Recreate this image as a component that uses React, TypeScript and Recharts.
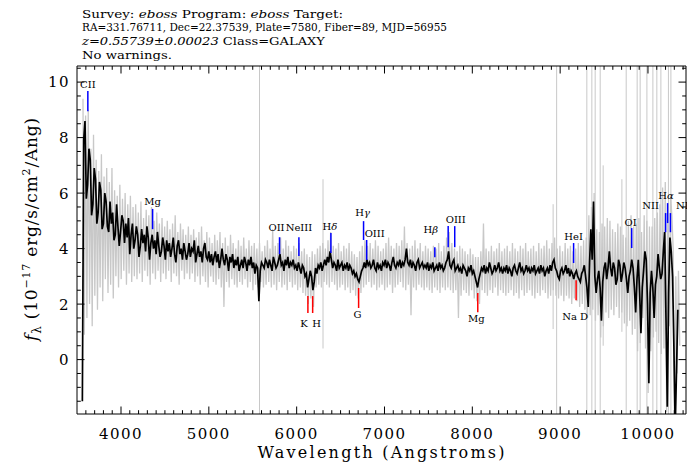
import React from "react";
import { LineChart, Line, XAxis, YAxis, ReferenceLine } from "recharts";

// spectrum: smoothed flux (black) and raw flux (gray), 10^-17 erg/s/cm^2/Ang
const smoothStart = 3560;
const smoothStep = 15;
const smoothFlux = [
  -1.5, 7.9, 8.6, 5.8, 6.3, 7.6, 7.2, 5.2, 5.6, 6.9, 6.5, 4.9, 5.3, 6.4, 6.1, 4.7, 4.9, 6.0, 5.7, 4.8,
  4.6, 5.7, 4.9, 5.3, 4.3, 4.5, 5.6, 4.8, 4.1, 4.6, 5.2, 5.0, 4.2, 4.9, 4.4, 5.1, 3.8, 4.5, 4.9, 4.0,
  4.3, 4.8, 4.5, 3.7, 4.1, 4.7, 4.2, 4.5, 3.9, 4.8, 4.4, 3.6, 4.2, 4.5, 4.0, 4.3, 3.8, 4.6, 4.1, 3.7,
  3.9, 4.4, 4.1, 3.6, 4.3, 3.9, 4.2, 3.7, 4.0, 4.4, 3.8, 3.5, 4.1, 4.3, 3.8, 4.0, 3.6, 4.2, 3.9, 3.6,
  3.8, 4.2, 3.7, 4.0, 3.9, 4.3, 3.5, 3.8, 4.1, 3.7, 3.9, 3.5, 4.0, 4.2, 3.7, 3.6, 3.9, 3.5, 3.8, 3.4,
  3.7, 3.9, 3.5, 3.8, 3.3, 3.6, 4.0, 3.6, 3.4, 3.8, 3.6, 3.2, 3.7, 3.5, 3.8, 3.3, 3.6, 3.4, 3.7, 3.2,
  3.4, 3.6, 3.3, 3.7, 3.5, 3.2, 3.6, 3.4, 3.7, 3.3, 3.5, 3.1, 3.4, 3.3, 2.1, 3.2, 3.5, 3.4, 3.3, 3.6,
  3.5, 3.3, 3.6, 3.4, 3.2, 3.7, 3.5, 3.3, 3.4, 3.6, 3.8, 3.4, 3.5, 3.2, 3.6, 3.4, 3.7, 3.3, 3.5, 3.4,
  3.6, 3.3, 3.4, 3.2, 3.5, 3.3, 3.1, 3.4, 3.3, 3.0, 3.1, 2.6, 2.9, 3.2, 3.0, 2.5, 2.8, 3.3, 3.1, 3.4,
  3.3, 3.5, 3.2, 3.4, 3.6, 3.4, 3.7, 3.5, 3.9, 3.6, 3.3, 3.5, 3.4, 3.2, 3.6, 3.3, 3.4, 3.5, 3.2, 3.4,
  3.3, 3.5, 3.2, 3.4, 3.3, 3.1, 3.2, 3.0, 3.1, 2.9, 2.8, 3.0, 3.2, 3.3, 3.5, 3.3, 3.6, 3.4, 3.5, 3.3,
  3.4, 3.6, 3.3, 3.2, 3.5, 3.3, 3.4, 3.2, 3.5, 3.4, 3.6, 3.3, 3.5, 3.4, 3.2, 3.5, 3.7, 3.4, 3.3, 3.5,
  3.4, 3.6, 3.3, 3.5, 3.4, 3.6, 4.0, 3.5, 3.4, 3.6, 3.3, 3.5, 3.4, 3.2, 3.5, 3.6, 3.3, 3.4, 3.5, 3.3,
  3.4, 3.3, 3.5, 3.2, 3.4, 3.3, 3.5, 3.2, 3.3, 3.4, 3.2, 3.5, 3.3, 3.4, 3.2, 3.3, 3.5, 3.6, 3.9, 3.4,
  3.3, 3.5, 3.6, 3.2, 3.3, 3.4, 3.2, 3.3, 3.1, 3.4, 3.3, 3.2, 3.0, 3.3, 3.2, 3.4, 3.1, 3.2, 3.0, 2.8,
  2.6, 2.9, 3.1, 3.3, 3.2, 3.4, 3.1, 3.3, 3.2, 3.5, 3.3, 3.1, 3.2, 3.4, 3.2, 3.3, 3.5, 3.2, 3.3, 3.1,
  3.3, 3.2, 3.4, 3.1, 3.3, 3.2, 3.0, 3.3, 3.4, 3.2, 3.1, 3.3, 3.5, 3.2, 3.3, 3.1, 3.2, 3.4, 3.2, 3.3,
  3.1, 3.3, 3.2, 3.4, 3.1, 3.2, 3.3, 3.1, 3.4, 3.2, 3.3, 3.0, 3.2, 3.3, 3.1, 3.4, 3.2, 3.5, 3.6, 3.3,
  3.2, 3.0, 2.9, 3.2, 3.3, 3.1, 3.2, 3.4, 3.1, 3.3, 3.0, 3.2, 3.1, 2.9, 3.1, 3.2, 3.0, 2.9, 2.8, 3.1,
  3.2, 3.4, 3.0, 2.6, 1.9, 3.5, 4.7, 3.6, 5.7, 3.0, 2.4, 2.9, 3.2, 2.6, 1.4, 2.8, 3.3, 3.5, 2.9, 3.3,
  3.9, 3.3, 3.0, 3.5, 3.3, 2.7, 2.9, 3.6, 3.4, 2.8, 3.1, 3.5, 3.3, 2.9, 2.4, 3.0, 3.2, 3.6, 3.3, 2.6,
  1.7, 2.9, 3.6, 2.4, 0.95, 2.6, 3.2, 3.9, 3.6, 2.0, -0.85, 2.4, 3.2, 2.6, 1.5, 2.7, 3.0, 3.8, 3.3, 2.9,
  3.1, 3.9, 4.6, 1.5, -1.7, 2.4, 4.4, 3.9, 3.0, 0.5, -2.5, -0.4, 1.8,
];

const rawStart = 3567;
const rawStep = 15;
const rawFlux = [
  9.4, 0.9, 8.8, 1.5, 9.0, 2.0, 7.6, 1.2, 8.1, 2.3, 7.2, 1.8, 6.8, 2.6, 7.4, 2.1, 6.6, 2.9, 6.9, 2.4,
  6.4, 2.7, 6.9, 2.2, 6.1, 3.0, 5.9, 2.6, 6.3, 2.9, 5.8, 3.2, 6.0, 2.7, 5.6, 3.1, 5.9, 2.8, 5.5, 3.0,
  5.6, 2.9, 5.3, 3.1, 5.7, 2.8, 5.1, 3.2, 5.4, 3.0, 5.2, 2.7, 5.5, 3.1, 5.0, 2.9, 5.3, 3.2, 4.9, 2.8,
  5.1, 3.1, 4.8, 2.9, 5.0, 3.2, 4.7, 2.8, 4.9, 3.1, 5.2, 3.0, 4.6, 2.7, 4.9, 3.2, 4.7, 2.9, 4.5, 3.1,
  4.8, 2.9, 4.5, 3.1, 4.7, 2.8, 4.4, 3.0, 4.6, 2.7, 4.8, 3.0, 4.3, 2.8, 4.6, 2.6, 4.4, 3.0, 4.2, 2.8,
  4.5, 2.7, 4.3, 2.9, 4.6, 2.6, 4.2, 1.9, 4.4, 2.8, 4.1, 2.6, 4.5, 2.9, 4.2, 2.7, 4.0, 2.6, 4.3, 2.8,
  4.1, 2.7, 4.4, 2.9, 4.0, 2.6, 4.3, 2.8, 4.1, 2.5, 4.2, 2.7, 4.0, 2.6, 4.2, 2.8, 3.9, 2.6, 4.1, 2.7,
  4.3, 2.8, 4.0, 2.6, 4.7, 2.7, 4.1, 2.5, 4.2, 2.8, 4.4, 2.6, 4.0, 2.7, 4.3, 2.5, 4.1, 2.8, 3.9, 2.6,
  4.1, 2.7, 4.0, 2.5, 4.2, 2.6, 3.9, 2.4, 4.0, 2.3, 3.8, 2.0, 3.7, 2.2, 3.9, 1.9, 3.8, 2.6, 4.0, 2.7,
  4.1, 2.6, 4.2, 2.8, 4.0, 2.7, 4.3, 2.6, 4.6, 2.8, 4.1, 2.7, 4.0, 2.5, 4.2, 2.6, 3.9, 2.7, 4.1, 2.5,
  4.0, 2.6, 4.2, 2.4, 3.9, 2.5, 3.8, 2.3, 3.7, 2.2, 3.9, 2.4, 4.1, 2.6, 4.3, 2.7, 4.1, 2.8, 4.2, 2.6,
  4.0, 2.7, 4.3, 2.5, 4.1, 2.6, 3.9, 2.7, 4.0, 2.5, 4.2, 2.6, 4.4, 2.7, 4.1, 2.4, 4.0, 2.6, 4.2, 2.7,
  4.1, 2.8, 4.3, 2.6, 4.8, 2.5, 4.2, 2.7, 4.0, 1.6, 4.1, 2.6, 4.3, 2.5, 4.0, 2.7, 4.2, 2.6, 3.9, 2.5,
  4.1, 2.6, 4.0, 2.5, 3.9, 2.4, 4.1, 2.6, 4.0, 2.5, 4.2, 2.4, 3.9, 2.6, 4.1, 2.5, 4.4, 2.6, 4.6, 2.5,
  4.2, 2.4, 4.0, 2.5, 3.9, 1.5, 4.1, 2.3, 4.0, 2.5, 3.9, 2.4, 3.8, 2.3, 4.0, 2.5, 3.8, 2.2, 3.7, 2.1,
  3.7, 2.0, 3.9, 2.5, 4.9, 2.4, 4.0, 2.3, 3.9, 2.5, 4.1, 2.4, 3.9, 2.6, 4.0, 2.3, 4.2, 2.5, 3.9, 2.4,
  4.0, 2.3, 4.1, 2.4, 3.9, 2.5, 4.2, 2.3, 4.0, 2.4, 3.9, 2.2, 4.1, 2.5, 4.0, 2.3, 4.2, 2.4, 3.9, 2.5,
  4.0, 2.3, 4.1, 2.2, 3.9, 2.4, 4.2, 2.3, 4.0, 2.5, 4.1, 2.4, 4.3, 2.2, 4.0, 2.3, 4.2, 2.5, 4.4, 2.3,
  4.0, 2.2, 4.1, 2.3, 3.9, 2.1, 4.2, 2.3, 4.0, 2.2, 4.1, 2.0, 3.9, 2.2, 4.0, 2.1, 4.2, 1.9, 4.1, 2.0,
  4.3, 1.8, 4.4, 1.5, 5.2, 1.6, 5.5, 1.8, 6.0, 1.4, 4.7, 1.6, 4.6, 0.8, 4.9, 1.2, 4.8, 1.7, 5.1, 1.5,
  5.0, 1.8, 4.7, 1.6, 4.6, 1.9, 4.9, 1.5, 4.8, 1.7, 4.5, 1.3, 4.4, 1.2, 5.0, 1.4, 5.2, 0.9, 4.8, 1.1,
  4.9, 0.3, 5.1, 0.6, 4.6, 1.5, 5.2, 0.4, 5.0, -1.2, 4.8, 0.3, 4.8, 0.8, 5.1, 1.0, 5.3, 0.6, 5.6, 0.2,
  6.2, 0.4, 6.4, -1.9, 5.6, 1.2, 5.9, 5.2, 4.0, -2.5, 3.0, -0.5, 3.2, 0.5,
];

// masked sky lines in the raw flux
const skyWaves = [5577, 6300, 8920, 8960, 9304, 9361, 9399, 9456, 9490, 9703, 9752, 9877, 9911, 9988, 10056, 10101, 10147, 10233, 10261];
const skyLow = [-3, 0.4, 1.1, -3, -3, -3, -3, -3, 0.5, 1.0, -3, -3, -3, -3, -3, -3, -3, -3, -3];
const skyHigh = [12, 6.5, 5.6, 12, 12, 12, 12, 12, 7.0, 6.5, 12, 12, 12, 12, 12, 12, 12, 12, 12];

// redshift and line identifications
const redshift = 0.55739;
const lineNames = ["CII", "Mg", "OII", "NeIII", "Hδ", "Hγ", "OIII", "Hβ", "", "OIII", "HeI", "OI", "NII", "Hα", "NII", "K", "H", "G", "Mg", "Na D"];
const lineRest = [2326.0, 2799.5, 3727.4, 3869.0, 4102.9, 4341.7, 4364.4, 4862.7, 4960.3, 5008.2, 5877.3, 6302.0, 6549.9, 6564.6, 6585.3, 3934.8, 3969.6, 4305.6, 5176.7, 5895.6];
const lineEmission = [true, true, true, true, true, true, true, true, true, true, true, true, true, true, true, false, false, false, false, false];
const lineTop = [9.68, 5.43, 4.41, 4.41, 4.56, 4.99, 4.31, 4.05, 4.81, 4.81, 4.2, 4.74, 5.28, 5.64, 5.28, 2.29, 2.29, 2.58, 2.4, 2.86];
const lineBottom = [8.95, 4.7, 3.8, 3.73, 3.84, 4.31, 3.59, 3.69, 4.05, 4.05, 3.48, 4.02, 4.59, 4.92, 4.59, 1.68, 1.68, 1.86, 1.71, 2.14];

// label offsets (px)
const labelDx = [0, 0, -3, 0, -1, -1, 8, -4, 0, 1, 0, -1, -15, -1.5, 14, -4, 4, -1, -1.5, -1];
const labelGap = [3, 4, 6, 6, 3, 5, 3, 14, 0, 3, 3, 2, 4, 4, 4, 14, 14, 10, 10, 20];

const xMajorTicks = [4000, 5000, 6000, 7000, 8000, 9000, 10000];
const yMajorTicks = [0, 2, 4, 6, 8, 10];

const xAllTicks: number[] = [];
for (let w = 3600; w <= 10400; w += 100) xAllTicks.push(w);
const yAllTicks: number[] = [];
for (let k = -3; k <= 21; k++) yAllTicks.push(k / 2);

const smoothData = smoothFlux.map((f, i) => ({ w: smoothStart + i * smoothStep, f }));
const rawData = rawFlux.map((f, i) => ({ w: rawStart + i * rawStep, f }));
const skyData = skyWaves.flatMap((w, i) => [
  { w, f: skyLow[i] },
  { w, f: skyHigh[i] },
  { w, f: null as number | null },
]);

const FONT = "DejaVu Serif";

function XTick({ x, y, payload, side }: any) {
  const major = xMajorTicks.includes(payload.value);
  const len = major ? 7.5 : 3.8;
  const dir = side === "top" ? 1 : -1;
  return (
    <g>
      <line x1={x} x2={x} y1={y} y2={y + dir * len} stroke="#000" strokeWidth={1} />
      {side === "bottom" && major && (
        <text x={x} y={y + 25} textAnchor="middle" fontFamily={FONT} fontSize={15} letterSpacing={1.5} fill="#000">
          {payload.value}
        </text>
      )}
    </g>
  );
}

function YTick({ x, y, payload, side }: any) {
  const major = yMajorTicks.includes(payload.value);
  const len = major ? 7.5 : 3.8;
  const dir = side === "left" ? 1 : -1;
  return (
    <g>
      <line x1={x} x2={x + dir * len} y1={y} y2={y} stroke="#000" strokeWidth={1} />
      {side === "left" && major && (
        <text x={x - 7} y={y} dy="0.36em" textAnchor="end" fontFamily={FONT} fontSize={15} letterSpacing={1.5} fill="#000">
          {payload.value}
        </text>
      )}
    </g>
  );
}

function LineLabel({ name, dx, gap, emission, viewBox }: any) {
  if (!name || !viewBox) return null;
  const tx = viewBox.x + dx;
  const ty = emission ? viewBox.y - gap : viewBox.y + viewBox.height + gap;
  const greek = name.length === 2 && name[0] === "H";
  return (
    <text x={tx} y={ty} textAnchor="middle" fontFamily={FONT} fontSize={10} fill="#000">
      {greek ? (
        <>
          H<tspan fontStyle="italic">{name[1]}</tspan>
        </>
      ) : (
        name
      )}
    </text>
  );
}

export default function App() {
  return (
    <div style={{ position: "absolute", left: 0, top: 0, width: 687, height: 464, background: "#fff" }}>
      <LineChart width={687} height={464} margin={{ top: 65, right: 0, bottom: 49, left: 76 }}>
        <XAxis
          xAxisId="b"
          dataKey="w"
          type="number"
          domain={[3499, 10433]}
          allowDataOverflow
          ticks={xAllTicks}
          interval={0}
          height={1}
          tickSize={0}
          tickMargin={0}
          tickLine={false}
          axisLine={{ stroke: "#000" }}
          tick={(p: any) => <XTick {...p} side="bottom" />}
        />
        <XAxis
          xAxisId="t"
          orientation="top"
          dataKey="w"
          type="number"
          domain={[3499, 10433]}
          allowDataOverflow
          ticks={xAllTicks}
          interval={0}
          height={1}
          tickSize={0}
          tickMargin={0}
          tickLine={false}
          axisLine={{ stroke: "#000" }}
          tick={(p: any) => <XTick {...p} side="top" />}
        />
        <YAxis
          yAxisId="l"
          type="number"
          domain={[-1.96, 10.58]}
          allowDataOverflow
          ticks={yAllTicks}
          interval={0}
          width={1}
          tickSize={0}
          tickMargin={0}
          tickLine={false}
          axisLine={{ stroke: "#000" }}
          tick={(p: any) => <YTick {...p} side="left" />}
        />
        <YAxis
          yAxisId="r"
          orientation="right"
          type="number"
          domain={[-1.96, 10.58]}
          allowDataOverflow
          ticks={yAllTicks}
          interval={0}
          width={1}
          tickSize={0}
          tickMargin={0}
          tickLine={false}
          axisLine={{ stroke: "#000" }}
          tick={(p: any) => <YTick {...p} side="right" />}
        />
        <Line
          xAxisId="b"
          yAxisId="l"
          data={skyData}
          dataKey="f"
          stroke="#c8c8c8"
          strokeWidth={1}
          dot={false}
          activeDot={false}
          connectNulls={false}
          isAnimationActive={false}
        />
        <Line
          xAxisId="b"
          yAxisId="l"
          data={rawData}
          dataKey="f"
          stroke="#c8c8c8"
          strokeWidth={1.3}
          dot={false}
          activeDot={false}
          isAnimationActive={false}
        />
        <Line
          xAxisId="b"
          yAxisId="l"
          data={smoothData}
          dataKey="f"
          stroke="#000"
          strokeWidth={1.7}
          dot={false}
          activeDot={false}
          isAnimationActive={false}
        />
        {lineRest.map((rest, i) => {
          const w = rest * (1 + redshift);
          return (
            <ReferenceLine
              key={i}
              xAxisId="b"
              yAxisId="l"
              segment={[
                { x: w, y: lineTop[i] },
                { x: w, y: lineBottom[i] },
              ]}
              stroke={lineEmission[i] ? "#0000ff" : "#ff0000"}
              strokeWidth={1.5}
              label={(p: any) => (
                <LineLabel
                  viewBox={p.viewBox}
                  name={lineNames[i]}
                  dx={labelDx[i]}
                  gap={labelGap[i]}
                  emission={lineEmission[i]}
                />
              )}
            />
          );
        })}
      </LineChart>
      <svg width={687} height={464} style={{ position: "absolute", left: 0, top: 0, pointerEvents: "none" }}>
        <g fontFamily={FONT} fontSize={11} fill="#000">
          <text x={82} y={17.5} textLength={261} lengthAdjust="spacingAndGlyphs">
            Survey: <tspan fontStyle="italic">eboss</tspan> Program: <tspan fontStyle="italic">eboss</tspan> Target:
          </text>
          <text x={82} y={31} textLength={365} lengthAdjust="spacingAndGlyphs">
            RA=331.76711, Dec=22.37539, Plate=7580, Fiber=89, MJD=56955
          </text>
          <text x={82} y={45} textLength={243} lengthAdjust="spacingAndGlyphs">
            <tspan fontStyle="italic">z=0.55739±0.00023</tspan> Class=GALAXY
          </text>
          <text x={82} y={58.5} textLength={90} lengthAdjust="spacingAndGlyphs">
            No warnings.
          </text>
        </g>
        <text x={381} y={458} textAnchor="middle" fontFamily={FONT} fontSize={16} textLength={247} lengthAdjust="spacing" fill="#000">
          Wavelength (Angstroms)
        </text>
        <text transform="translate(37, 229) rotate(-90)" textAnchor="middle" fontFamily={FONT} fontSize={17} letterSpacing={0.8} fill="#000">
          <tspan fontStyle="italic">f</tspan>
          <tspan fontSize={12} dy={4}>λ</tspan>
          <tspan dy={-4}> (10</tspan>
          <tspan fontSize={11} dy={-7}>−17</tspan>
          <tspan dy={7}> erg/s/cm</tspan>
          <tspan fontSize={11} dy={-7}>2</tspan>
          <tspan dy={7}>/Ang)</tspan>
        </text>
      </svg>
    </div>
  );
}
